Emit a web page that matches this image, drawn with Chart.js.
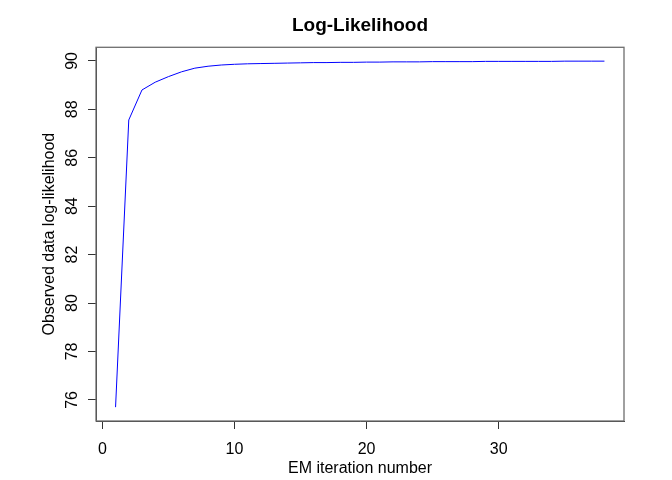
<!DOCTYPE html>
<html>
<head>
<meta charset="utf-8">
<script src="https://cdn.jsdelivr.net/npm/chart.js@4"></script>
<style>
  html, body { margin: 0; padding: 0; background: #fff; }
</style>
</head>
<body>
<canvas id="llChart" width="672" height="480"></canvas>
<script>
// EM iterations and observed-data log-likelihood
const iterations = [1, 2, 3, 4, 5, 6, 7, 8, 9, 10, 11, 12, 13, 14, 15, 16, 17, 18, 19, 20,
  21, 22, 23, 24, 25, 26, 27, 28, 29, 30, 31, 32, 33, 34, 35, 36, 37, 38];
const logLik = [75.70, 87.56, 88.80, 89.12, 89.35, 89.55, 89.70, 89.78, 89.83, 89.86,
  89.88, 89.89, 89.90, 89.91, 89.92, 89.93, 89.93, 89.94, 89.94, 89.95,
  89.95, 89.96, 89.96, 89.96, 89.97, 89.97, 89.97, 89.97, 89.98, 89.98,
  89.98, 89.98, 89.98, 89.98, 89.99, 89.99, 89.99, 89.99];
const xTicks = [0, 10, 20, 30];
const yTicks = [76, 78, 80, 82, 84, 86, 88, 90];

const FONT = "'Liberation Sans', Arial, Helvetica, sans-serif";

// R style axis limits: data range padded by 4% each side
const pad4 = (arr) => {
  const lo = Math.min(...arr), hi = Math.max(...arr);
  const d = (hi - lo) * 0.04;
  return [lo - d, hi + d];
};
const [xmin, xmax] = pad4(iterations);
const [ymin, ymax] = pad4(logLik);

const boxPlugin = {
  id: "box",
  afterDraw(chart) {
    const { ctx, chartArea: a } = chart;
    ctx.save();
    ctx.strokeStyle = "#6e6e6e";
    ctx.lineWidth = 1.3;
    ctx.strokeRect(a.left, a.top, a.right - a.left, a.bottom - a.top);
    ctx.restore();
  }
};

new Chart(document.getElementById("llChart"), {
  type: "line",
  data: {
    datasets: [{
      data: iterations.map((x, i) => ({ x: x, y: logLik[i] })),
      borderColor: "#0000ff",
      borderWidth: 1,
      pointRadius: 0,
      tension: 0,
      fill: false
    }]
  },
  options: {
    responsive: false,
    animation: false,
    layout: { padding: { left: 0, right: 48, top: 0, bottom: 0 } },
    plugins: {
      legend: { display: false },
      tooltip: { enabled: false },
      title: {
        display: true,
        text: "Log-Likelihood",
        fullSize: false,
        color: "#000",
        font: { family: FONT, size: 19, weight: "bold", lineHeight: 1.2 },
        padding: { top: 14, bottom: 10.5 }
      }
    },
    scales: {
      x: {
        type: "linear",
        min: xmin,
        max: xmax,
        afterBuildTicks: (s) => { s.ticks = xTicks.map(v => ({ value: v })); },
        afterFit: (s) => { s.height = 59; },
        grid: { display: true, drawOnChartArea: false, drawTicks: true, tickLength: 8, color: "#333", lineWidth: 1 },
        border: { display: true, color: "#333", width: 1 },
        ticks: { color: "#000", font: { family: FONT, size: 16 }, padding: 11, maxRotation: 0, autoSkip: false },
        title: {
          display: true,
          text: "EM iteration number",
          color: "#000",
          font: { family: FONT, size: 16, lineHeight: 1.2 },
          padding: { top: 0, bottom: 2 }
        }
      },
      y: {
        type: "linear",
        min: ymin,
        max: ymax,
        afterBuildTicks: (s) => { s.ticks = yTicks.map(v => ({ value: v })); },
        afterFit: (s) => { s.width = 96; },
        grid: { display: true, drawOnChartArea: false, drawTicks: true, tickLength: 8, color: "#333", lineWidth: 1 },
        border: { display: true, color: "#333", width: 1 },
        ticks: {
          color: "#000",
          font: { family: FONT, size: 16 },
          padding: 7,
          minRotation: 90,
          maxRotation: 90,
          crossAlign: "center",
          autoSkip: false
        },
        title: {
          display: true,
          text: "Observed data log-likelihood",
          color: "#000",
          font: { family: FONT, size: 16, lineHeight: 1.2 },
          padding: { top: 40, bottom: 0 }
        }
      }
    }
  },
  plugins: [boxPlugin]
});
</script>
</body>
</html>
